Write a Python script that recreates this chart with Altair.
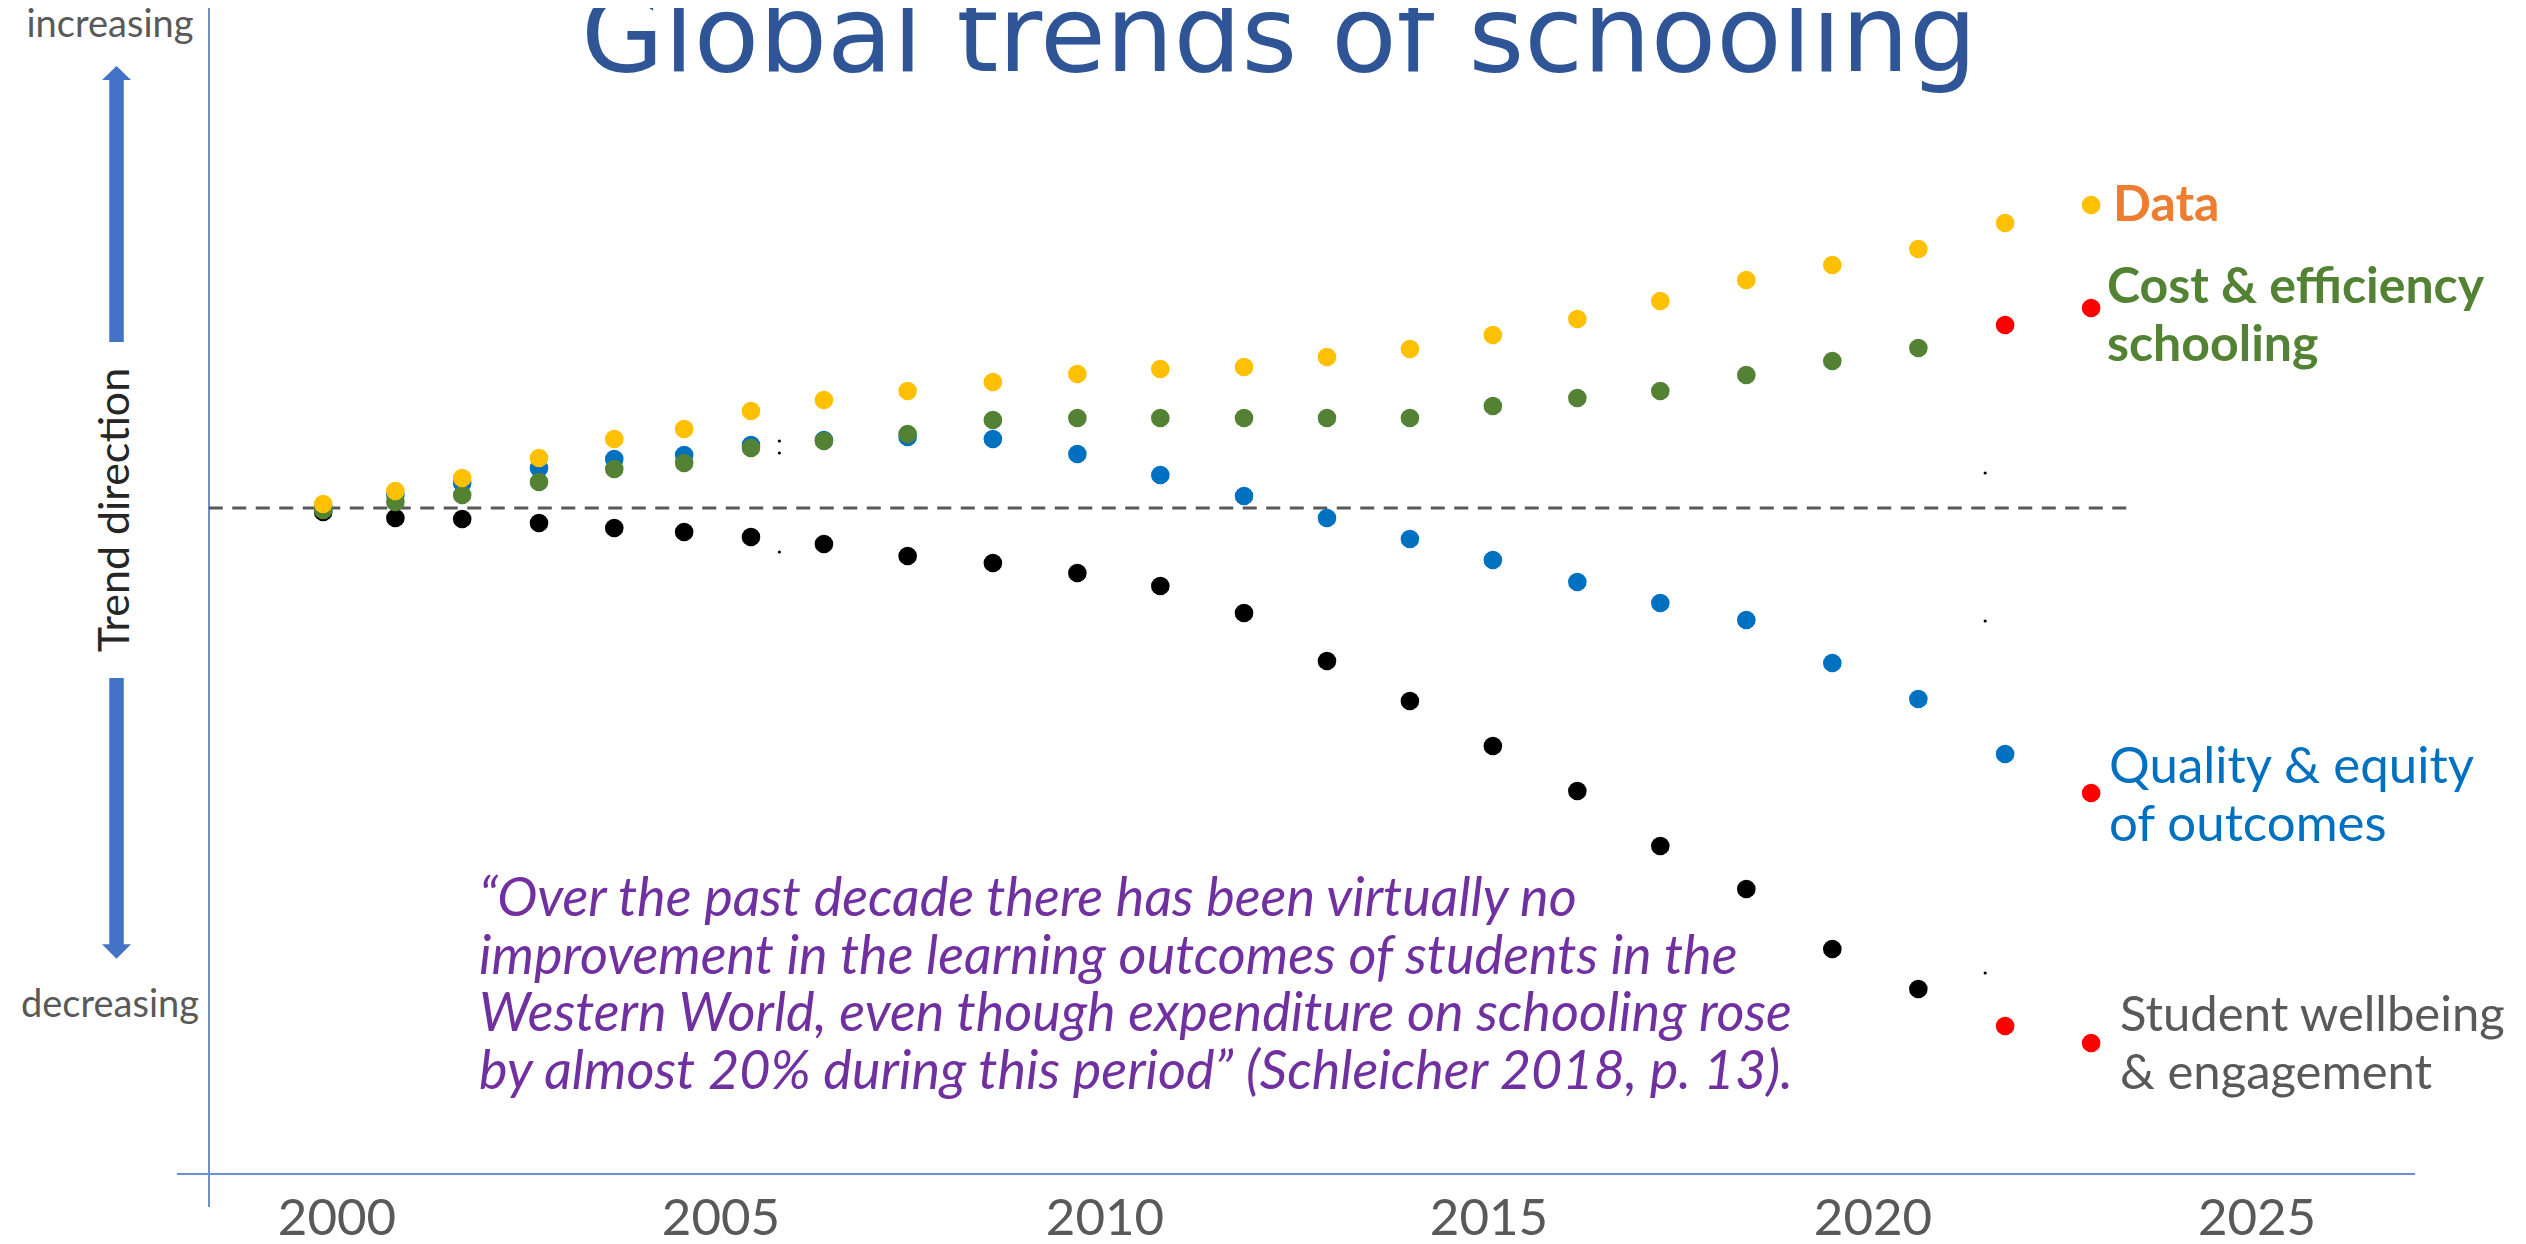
import altair as alt
import pandas as pd

# ---------------- data ----------------
years = [1999.82, 2000.76, 2001.63, 2002.63, 2003.61, 2004.52, 2005.39, 2006.34,
         2007.43, 2008.54, 2009.64, 2010.72, 2011.81, 2012.89, 2013.97, 2015.05,
         2016.15, 2017.23, 2018.35, 2019.47, 2020.59, 2021.72, 2022.84]

series_names = ["Student wellbeing & engagement", "Quality & equity of outcomes",
                "Cost & efficiency schooling", "Data"]

wellbeing = [-0.4, -1.0, -1.1, -1.5, -2.0, -2.4, -2.9, -3.6, -4.8, -5.5, -6.5, -7.8,
             -10.5, -15.3, -19.3, -23.8, -28.3, -33.8, -38.1, -44.1, -48.1, -51.8, -53.5]
quality = [0.1, 1.3, 2.5, 4.0, 4.9, 5.3, 6.3, 6.8, 7.1, 6.9, 5.4, 3.3,
           1.2, -1.0, -3.1, -5.2, -7.4, -9.5, -11.2, -15.5, -19.1, -24.6, -28.5]
cost = [-0.2, 0.6, 1.3, 2.6, 3.9, 4.5, 6.0, 6.7, 7.4, 8.8, 9.0, 9.0,
        9.0, 9.0, 9.0, 10.2, 11.0, 11.7, 13.3, 14.7, 16.0, 18.3, 20.0]
data_trend = [0.4, 1.7, 3.0, 5.0, 6.9, 7.9, 9.7, 10.8, 11.7, 12.6, 13.4, 13.9,
              14.1, 15.1, 15.9, 17.3, 18.9, 20.7, 22.8, 24.3, 25.9, 28.5, 30.3]

# indices of points drawn in red (projections)
projected_idx = {
    "Student wellbeing & engagement": [21, 22],
    "Quality & equity of outcomes": [22],
    "Cost & efficiency schooling": [21, 22],
    "Data": [],
}

# tiny stray markers visible in the picture
stray_years = [2005.76, 2005.76, 2005.76, 2021.46, 2021.46, 2021.46]
stray_values = [6.7, 5.5, -4.4, 3.5, -11.3, -46.5]

tick_years = [2000, 2005, 2010, 2015, 2020, 2025]
tick_labels = ["2000", "2005", "2010", "2015", "2020", "2025"]

# reference lines (data units)
baseline_value = 0.0
baseline_start = 1998.33
baseline_end = 2023.42
yaxis_year = 1998.333
yaxis_top, yaxis_bottom = 50.1, -69.9
xaxis_value = -66.6
xaxis_start, xaxis_end = 1997.917, 2027.057
arrow_year = 1997.129
up_arrow = (42.9, 16.6, 43.5)        # shaft top, shaft bottom, head centre
down_arrow = (-17.0, -43.7, -44.35)  # shaft top, shaft bottom, head centre

title_text = "Global trends of schooling"
quote_lines = [
    "\u201cOver the past decade there has been virtually no",
    "improvement in the learning outcomes of students in the",
    "Western World, even though expenditure on schooling rose",
    "by almost 20% during this period\u201d (Schleicher 2018, p. 13).",
]

# ---------------- build tables ----------------
rows = []
for name, vals in zip(series_names, [wellbeing, quality, cost, data_trend]):
    for i, (yr, v) in enumerate(zip(years, vals)):
        key = "Projected" if i in projected_idx[name] else name
        rows.append({"year": yr, "value": v, "series": name, "colorkey": key})
points = pd.DataFrame(rows)
stray = pd.DataFrame({"year": stray_years, "value": stray_values})
hlines = pd.DataFrame({"x": [baseline_start, xaxis_start],
                       "x2": [baseline_end, xaxis_end],
                       "y": [baseline_value, xaxis_value],
                       "kind": ["baseline", "axis"]})
yline = pd.DataFrame({"x": [yaxis_year], "y": [yaxis_top], "y2": [yaxis_bottom]})
shafts = pd.DataFrame({"x": [arrow_year, arrow_year],
                       "y": [up_arrow[0], down_arrow[0]],
                       "y2": [up_arrow[1], down_arrow[1]]})
head_up = pd.DataFrame({"x": [arrow_year], "y": [up_arrow[2]]})
head_down = pd.DataFrame({"x": [arrow_year], "y": [down_arrow[2]]})
ticks = pd.DataFrame({"year": tick_years, "label": tick_labels})
one = pd.DataFrame({"k": [0]})

W, H = 2510, 1228
xscale = alt.Scale(domain=[1995.716, 2028.398], nice=False, zero=False)
yscale = alt.Scale(domain=[-72.8, 50], nice=False, zero=False)


def X(field):
    return alt.X(field, scale=xscale, axis=None)


def Y(field):
    return alt.Y(field, scale=yscale, axis=None)


color_scale = alt.Scale(
    domain=series_names + ["Projected"],
    range=["#000000", "#0070C0", "#548235", "#FFC000", "#FF0000"],
)

dots = alt.Chart(points).mark_circle(size=346, opacity=1).encode(
    x=X("year:Q"), y=Y("value:Q"),
    color=alt.Color("colorkey:N", scale=color_scale, legend=None),
)

stray_marks = alt.Chart(stray).mark_circle(size=10, opacity=1, color="#000000").encode(
    x=X("year:Q"), y=Y("value:Q")
)

dashed = alt.Chart(hlines).transform_filter(alt.datum.kind == "baseline").mark_rule(
    color="#595959", strokeWidth=3, strokeDash=[14, 9.5]
).encode(x=X("x:Q"), x2="x2:Q", y=Y("y:Q"))

xaxis_line = alt.Chart(hlines).transform_filter(alt.datum.kind == "axis").mark_rule(
    color="#6A8FD4", strokeWidth=2
).encode(x=X("x:Q"), x2="x2:Q", y=Y("y:Q"))

yaxis_line = alt.Chart(yline).mark_rule(color="#6A8FD4", strokeWidth=2).encode(
    x=X("x:Q"), y=Y("y:Q"), y2="y2:Q"
)

tick_text = alt.Chart(ticks).mark_text(
    font="Lato", fontSize=51, color="#595959", align="center", baseline="alphabetic"
).encode(x=X("year:Q"), y=alt.value(1227), text="label:N")

ARROW = "#4472C4"
arrow_shafts = alt.Chart(shafts).mark_rule(color=ARROW, strokeWidth=14.5).encode(
    x=X("x:Q"), y=Y("y:Q"), y2="y2:Q")
up_head = alt.Chart(head_up).mark_point(shape="M-1,0.483L0,-0.483L1,0.483Z", filled=True,
                                        size=841, opacity=1, color=ARROW, strokeWidth=0).encode(
    x=X("x:Q"), y=Y("y:Q"))
down_head = alt.Chart(head_down).mark_point(shape="M-1,-0.5L0,0.5L1,-0.5Z", filled=True,
                                            size=841, opacity=1, color=ARROW, strokeWidth=0).encode(
    x=X("x:Q"), y=Y("y:Q"))


def label(text, x, y, size, color, font="Lato", weight="normal", style="normal",
          align="left", angle=None):
    kw = dict(text=text, fontSize=size, color=color, font=font, fontWeight=weight,
              fontStyle=style, align=align, baseline="alphabetic")
    if angle is not None:
        kw["angle"] = angle
    return alt.Chart(one).mark_text(**kw).encode(x=alt.value(x), y=alt.value(y))


def block(lines, x, y, lh, size, color, **kw):
    return [label(t, x, y + i * lh, size, color, **kw) for i, t in enumerate(lines)]


texts = [
    label(title_text, 1271, 63, 107, "#2F5597", font="DejaVu Sans", align="center"),
    label("increasing", 102, 29, 38, "#595959", align="center"),
    label("decreasing", 102, 1009, 38, "#595959", align="center"),
    label("Trend direction", 121, 502, 43, "#262626", align="center", angle=270),
    label("Data", 2105, 213, 50, "#ED7D31", weight="bold"),
]
texts += block(quote_lines, 471, 908, 57.7, 54, "#7030A0", style="italic")
texts += block(["Cost & efficiency", "schooling"], 2099, 295, 58, 50, "#548235", weight="bold")
texts += block(["Quality & equity", "of outcomes"], 2101, 775, 58, 51, "#0070C0")
texts += block(["Student wellbeing", "& engagement"], 2112, 1023, 58, 49, "#595959")

chart = alt.layer(
    yaxis_line, xaxis_line, dashed, stray_marks, dots, arrow_shafts, up_head, down_head,
    tick_text, *texts
).properties(
    width=W, height=H,
    autosize=alt.AutoSizeParams(type="none"),
    padding=0,
    background="white",
).configure_view(stroke=None)

chart.save("out.html", embed_options={"renderer": "svg", "actions": False})
